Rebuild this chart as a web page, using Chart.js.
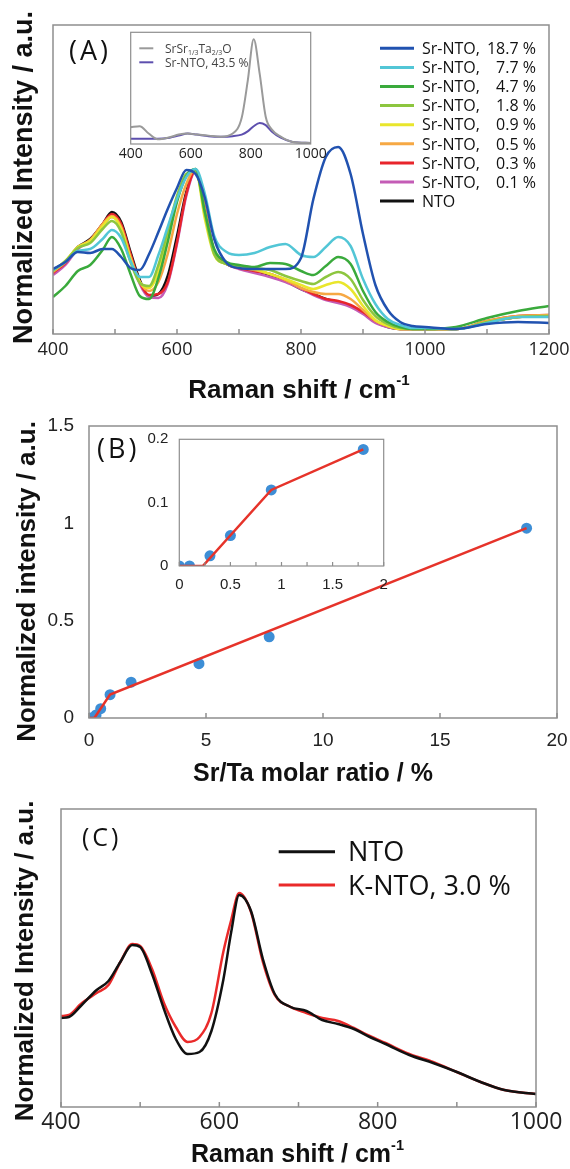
<!DOCTYPE html>
<html lang="en">
<head>
<meta charset="utf-8">
<title>Raman spectra of Sr- and K-doped NTO</title>
<script src="https://cdn.jsdelivr.net/npm/chart.js@4.4.1/dist/chart.umd.min.js"></script>
<style>
  body { margin: 0; background: #fff; }
  #figure { position: relative; width: 570px; height: 1169px; background: #fff; overflow: hidden; }
  #figure canvas { position: absolute; }
</style>
</head>
<body>
<div id="figure">
  <canvas id="spectraChart" width="570" height="400" style="left:0;top:0"></canvas>
  <canvas id="spectraInset" width="220" height="140" style="left:110px;top:30px"></canvas>
  <canvas id="ratioChart" width="570" height="390" style="left:0;top:400px"></canvas>
  <canvas id="ratioInset" width="262" height="170" style="left:130px;top:430px"></canvas>
  <canvas id="potassiumChart" width="570" height="379" style="left:0;top:790px"></canvas>
</div>
<script>
// (A) Raman spectra, Sr-NTO series (normalized intensity, a.u.)
const ramanShift = [400, 420, 440, 460, 480, 495, 510, 525, 540, 555, 570, 585, 600, 615, 630, 645, 660, 680, 700, 725,
  750, 775, 800, 820, 840, 860, 880, 900, 920, 940, 960, 980, 1000, 1050, 1100, 1150, 1200];
const sr187 = [0.65, 0.72, 0.82, 0.81, 0.85, 0.85, 0.77, 0.66, 0.64, 0.80, 1.02, 1.25, 1.46, 1.64, 1.60, 1.36, 0.95, 0.71, 0.66, 0.65,
  0.65, 0.65, 0.76, 1.35, 1.77, 1.87, 1.60, 1.00, 0.49, 0.24, 0.12, 0.08, 0.07, 0.05, 0.10, 0.12, 0.11];
const sr77 = [0.64, 0.72, 0.83, 0.85, 0.95, 1.04, 0.96, 0.73, 0.57, 0.57, 0.79, 1.07, 1.35, 1.57, 1.65, 1.40, 0.98, 0.82, 0.79, 0.81,
  0.87, 0.90, 0.79, 0.77, 0.87, 0.97, 0.88, 0.55, 0.30, 0.15, 0.09, 0.06, 0.06, 0.05, 0.11, 0.17, 0.17];
const sr47 = [0.37, 0.48, 0.63, 0.69, 0.84, 0.97, 0.85, 0.60, 0.38, 0.35, 0.56, 0.92, 1.32, 1.58, 1.65, 1.22, 0.85, 0.72, 0.69, 0.67,
  0.71, 0.70, 0.63, 0.59, 0.68, 0.77, 0.70, 0.43, 0.22, 0.12, 0.07, 0.05, 0.05, 0.07, 0.16, 0.23, 0.28];
const sr18 = [0.63, 0.73, 0.86, 0.91, 1.05, 1.13, 1.02, 0.72, 0.51, 0.48, 0.69, 1.03, 1.38, 1.60, 1.63, 1.20, 0.80, 0.70, 0.68, 0.66,
  0.64, 0.58, 0.53, 0.50, 0.57, 0.62, 0.55, 0.34, 0.18, 0.10, 0.06, 0.05, 0.05, 0.05, 0.12, 0.17, 0.18];
const sr09 = [0.63, 0.73, 0.87, 0.93, 1.08, 1.17, 1.05, 0.75, 0.52, 0.46, 0.62, 0.98, 1.34, 1.58, 1.63, 1.15, 0.79, 0.70, 0.67, 0.65,
  0.60, 0.55, 0.49, 0.45, 0.49, 0.52, 0.45, 0.28, 0.14, 0.08, 0.05, 0.05, 0.05, 0.05, 0.12, 0.17, 0.18];
const sr05 = [0.62, 0.72, 0.87, 0.94, 1.10, 1.18, 1.07, 0.77, 0.52, 0.43, 0.52, 0.80, 1.20, 1.50, 1.65, 1.25, 0.82, 0.70, 0.67, 0.64,
  0.60, 0.54, 0.46, 0.42, 0.40, 0.40, 0.35, 0.24, 0.13, 0.08, 0.05, 0.05, 0.05, 0.05, 0.13, 0.18, 0.19];
const sr03 = [0.61, 0.71, 0.86, 0.94, 1.10, 1.20, 1.10, 0.80, 0.52, 0.39, 0.40, 0.52, 0.92, 1.40, 1.64, 1.25, 0.82, 0.70, 0.66, 0.63,
  0.60, 0.54, 0.46, 0.40, 0.35, 0.33, 0.29, 0.22, 0.13, 0.08, 0.05, 0.05, 0.05, 0.05, 0.13, 0.18, 0.19];
const sr01 = [0.59, 0.69, 0.85, 0.93, 1.08, 1.17, 1.08, 0.78, 0.50, 0.37, 0.36, 0.50, 0.90, 1.38, 1.63, 1.26, 0.83, 0.70, 0.65, 0.61,
  0.57, 0.52, 0.45, 0.39, 0.34, 0.31, 0.27, 0.20, 0.11, 0.07, 0.05, 0.05, 0.05, 0.05, 0.12, 0.17, 0.18];
const nto = [0.64, 0.72, 0.87, 0.95, 1.10, 1.22, 1.12, 0.82, 0.54, 0.38, 0.40, 0.58, 0.98, 1.42, 1.64, 1.22, 0.82, 0.70, 0.66, 0.63,
  0.59, 0.53, 0.45, 0.40, 0.35, 0.32, 0.28, 0.21, 0.12, 0.07, 0.05, 0.05, 0.05, 0.05, 0.12, 0.17, 0.18];
const spectraLabels = ["Sr-NTO, 18.7 %", "Sr-NTO, 7.7 %", "Sr-NTO, 4.7 %", "Sr-NTO, 1.8 %", "Sr-NTO, 0.9 %",
  "Sr-NTO, 0.5 %", "Sr-NTO, 0.3 %", "Sr-NTO, 0.1 %", "NTO"];

// (A) inset: reference tantalate vs. heavily doped sample
const insetShift = [400, 430, 460, 490, 530, 560, 590, 620, 660, 700, 740, 770, 790, 810, 830, 850, 870, 900, 940, 1000];
const srTantalate = [0.16, 0.17, 0.10, 0.045, 0.065, 0.09, 0.10, 0.09, 0.08, 0.07, 0.10, 0.25, 0.60, 1.00, 0.67, 0.26, 0.14, 0.07, 0.02, 0.01];
const sr435 = [0.05, 0.05, 0.05, 0.05, 0.06, 0.08, 0.10, 0.09, 0.075, 0.07, 0.075, 0.09, 0.12, 0.17, 0.20, 0.18, 0.12, 0.06, 0.02, 0.01];

// (B) 860 cm-1 band intensity vs. Sr/Ta molar ratio
const srTaRatio = [0, 0.1, 0.3, 0.5, 0.9, 1.8, 4.7, 7.7, 18.7];
const bandIntensity = [0, 0, 0.016, 0.048, 0.12, 0.184, 0.279, 0.417, 0.975];
const fitRatio = [0, 0.23, 0.9, 18.7];
const fitIntensity = [0, 0, 0.12, 0.975];
const insetFitRatio = [0, 0.23, 0.9, 1.8];
const insetFitIntensity = [0, 0, 0.12, 0.184];

// (C) K-doped NTO
const kShift = [400, 410, 425, 445, 460, 475, 490, 500, 515, 530, 545, 560, 575, 590, 605, 615, 625, 640, 655, 670,
  690, 710, 730, 750, 770, 790, 810, 840, 870, 900, 930, 960, 1000];
const ntoK = [0.89, 0.90, 1.01, 1.17, 1.26, 1.45, 1.62, 1.60, 1.33, 0.98, 0.68, 0.53, 0.55, 0.76, 1.27, 1.75, 2.12, 1.96, 1.48, 1.13,
  1.00, 0.96, 0.87, 0.83, 0.78, 0.70, 0.63, 0.52, 0.44, 0.35, 0.25, 0.17, 0.13];
const kNto30 = [0.91, 0.92, 1.03, 1.14, 1.22, 1.45, 1.63, 1.61, 1.38, 1.04, 0.80, 0.65, 0.70, 0.94, 1.55, 1.87, 2.14, 1.95, 1.45, 1.12,
  1.00, 0.94, 0.89, 0.86, 0.79, 0.71, 0.64, 0.53, 0.45, 0.35, 0.25, 0.17, 0.13];

const FONT_BOLD = "'Liberation Sans', Arial, sans-serif";
const FONT_TEXT = "'Open Sans', 'Noto Sans', sans-serif";
const FONT_PLAIN = "'Liberation Sans', Arial, sans-serif";
const FRAME = "#8e8e8e";

function toPoints(xs, ys) {
  return xs.map((x, i) => ({ x, y: ys[i] }));
}

// text with optional sub/superscript pieces
function drawParts(ctx, x, y, parts, style) {
  const size = style.size;
  const fontFor = (p) => {
    const s = p.sup || p.sub ? size * 0.58 : size;
    return `${style.weight || "normal"} ${s}px ${style.family || FONT_TEXT}`;
  };
  ctx.save();
  ctx.letterSpacing = style.spacing ? `${style.spacing}px` : "0px";
  let width = 0;
  parts.forEach((p) => {
    ctx.font = fontFor(p);
    width += ctx.measureText(p.t).width;
  });
  ctx.translate(x, y);
  if (style.rotate) ctx.rotate(style.rotate);
  let cx = style.align === "center" ? -width / 2 : style.align === "right" ? -width : 0;
  ctx.fillStyle = style.color || "#111";
  ctx.textAlign = "left";
  ctx.textBaseline = "alphabetic";
  parts.forEach((p) => {
    ctx.font = fontFor(p);
    const dy = p.sup ? -size * 0.5 : p.sub ? size * 0.22 : 0;
    ctx.fillText(p.t, cx, dy);
    cx += ctx.measureText(p.t).width;
  });
  ctx.restore();
}

function anchor(a, ax, dx, ay, dy) {
  const x = ax === "left" ? a.left : ax === "right" ? a.right : (a.left + a.right) / 2;
  const y = ay === "top" ? a.top : ay === "bottom" ? a.bottom : (a.top + a.bottom) / 2;
  return [x + dx, y + dy];
}

// box around the plot area plus inward ticks on the x axis
function framePlugin(width, tickLength) {
  return {
    id: "frame",
    afterDatasetsDraw(chart) {
      const { ctx, chartArea: a, scales } = chart;
      ctx.save();
      ctx.strokeStyle = FRAME;
      ctx.lineWidth = width;
      if (tickLength) {
        ctx.beginPath();
        scales.x.ticks.forEach((t) => {
          const x = scales.x.getPixelForValue(t.value);
          ctx.moveTo(x, a.bottom);
          ctx.lineTo(x, a.bottom - tickLength);
        });
        ctx.stroke();
      }
      ctx.strokeRect(a.left, a.top, a.width, a.height);
      ctx.restore();
    },
  };
}

function notesPlugin(items) {
  return {
    id: "notes",
    afterDraw(chart) {
      items.forEach((item) => {
        const [x, y] = anchor(chart.chartArea, ...item.at);
        drawParts(chart.ctx, x, y, item.parts, item);
      });
    },
  };
}

function legendPlugin(cfg) {
  return {
    id: "boxLegend",
    afterDraw(chart) {
      const { ctx, chartArea: a } = chart;
      chart.data.datasets.forEach((ds, i) => {
        const x0 = a.left + cfg.left;
        const y = a.top + cfg.top + i * cfg.rowGap;
        ctx.save();
        ctx.strokeStyle = ds.borderColor;
        ctx.lineWidth = cfg.lineWidth;
        ctx.beginPath();
        ctx.moveTo(x0, y);
        ctx.lineTo(x0 + cfg.lineLength, y);
        ctx.stroke();
        ctx.restore();
        const style = { size: cfg.size, family: FONT_TEXT, color: cfg.color };
        const tx = x0 + cfg.lineLength + cfg.gap;
        const ty = y + cfg.size * 0.36;
        const split = ds.label.indexOf(", ");
        if (cfg.valueRight !== undefined && split > 0) {
          drawParts(ctx, tx, ty, [{ t: ds.label.slice(0, split + 1) }], style);
          drawParts(ctx, a.right + cfg.valueRight, ty, [{ t: ds.label.slice(split + 2) }], { ...style, align: "right" });
        } else {
          drawParts(ctx, tx, ty, ds.labelParts || [{ t: ds.label }], style);
        }
      });
    },
  };
}

function baseOptions(padding) {
  return {
    responsive: false,
    animation: false,
    events: [],
    layout: { padding },
    plugins: { legend: { display: false }, tooltip: { enabled: false } },
  };
}

function xAxis(min, max, step, t) {
  return {
    type: "linear",
    min,
    max,
    grid: { display: false, drawTicks: false },
    border: { display: false },
    ticks: {
      stepSize: step,
      autoSkip: false,
      maxRotation: 0,
      padding: t.padding,
      color: "#222",
      font: { family: t.family, size: t.size },
      callback: t.callback,
    },
    afterFit(scale) {
      scale.height = t.height;
      scale.paddingLeft = 0;
      scale.paddingRight = 0;
    },
  };
}

function yAxis(min, max, step, t) {
  if (!t) return { type: "linear", min, max, display: false };
  return {
    type: "linear",
    min,
    max,
    grid: { display: false, drawTicks: false },
    border: { display: false },
    ticks: {
      stepSize: step,
      padding: t.padding,
      color: "#222",
      font: { family: t.family, size: t.size },
      callback: t.callback,
    },
    afterFit(scale) {
      scale.width = t.width;
      scale.paddingTop = 0;
      scale.paddingBottom = 0;
    },
  };
}

function spectrum(xs, ys, label, color, width) {
  return {
    label,
    data: toPoints(xs, ys),
    borderColor: color,
    borderWidth: width,
    pointRadius: 0,
    fill: false,
    cubicInterpolationMode: "monotone",
  };
}

const evenHundreds = (v) => (v % 200 === 0 ? String(v) : "");
const halfSteps = (v) => (Math.abs(v * 2 - Math.round(v * 2)) < 1e-6 ? String(v) : "");

// ---- (A) main spectra ----
const spectraSeries = [sr187, sr77, sr47, sr18, sr09, sr05, sr03, sr01, nto];
const spectraColors = ["#2152b0", "#52c6d6", "#3aaa3c", "#8dc63f", "#e9e62c", "#f6a844", "#e8252b", "#c45cb6", "#111111"];

new Chart(document.getElementById("spectraChart"), {
  type: "line",
  data: {
    datasets: spectraSeries.map((ys, i) => spectrum(ramanShift, ys, spectraLabels[i], spectraColors[i], 2.5)),
  },
  options: {
    ...baseOptions({ left: 53, top: 25, right: 21, bottom: 0 }),
    scales: {
      x: xAxis(400, 1200, 100, { family: FONT_TEXT, size: 18, padding: 5, height: 66, callback: evenHundreds }),
      y: yAxis(0, 3.09, 1),
    },
  },
  plugins: [
    framePlugin(1.5, 5),
    legendPlugin({ left: 327, top: 23.3, rowGap: 19.1, lineLength: 34, lineWidth: 3, gap: 8, size: 16, color: "#111", valueRight: -13 }),
    notesPlugin([
      { parts: [{ t: "(A)" }], at: ["left", 16, "top", 35], size: 27, family: FONT_TEXT, spacing: 3 },
      { parts: [{ t: "Normalized Intensity / a.u." }], at: ["left", -21, "middle", -2], size: 27, weight: "bold",
        family: FONT_BOLD, rotate: -Math.PI / 2, align: "center" },
      { parts: [{ t: "Raman shift / cm" }, { t: "-1", sup: true }], at: ["center", -2, "bottom", 64], size: 26,
        weight: "bold", family: FONT_BOLD, align: "center" },
    ]),
  ],
});

// ---- (A) inset ----
new Chart(document.getElementById("spectraInset"), {
  type: "line",
  data: {
    datasets: [
      { ...spectrum(insetShift, srTantalate, "SrSr1/3Ta2/3O", "#9a9a9a", 2),
        labelParts: [{ t: "SrSr" }, { t: "1/3", sub: true }, { t: "Ta" }, { t: "2/3", sub: true }, { t: "O" }] },
      spectrum(insetShift, sr435, "Sr-NTO, 43.5 %", "#5d4fae", 2),
    ],
  },
  options: {
    ...baseOptions({ left: 20.7, top: 2.3, right: 19.3, bottom: 0 }),
    scales: {
      x: xAxis(400, 1000, 200, { family: FONT_TEXT, size: 14, padding: 2, height: 26, callback: (v) => String(v) }),
      y: yAxis(0, 1.067, 1),
    },
  },
  plugins: [
    framePlugin(1.2, 0),
    legendPlugin({ left: 8.6, top: 16, rowGap: 14, lineLength: 14, lineWidth: 2, gap: 11.7, size: 12, color: "#444" }),
  ],
});

// ---- (B) band intensity vs. Sr/Ta ratio ----
function ratioDatasets(fitX, fitY) {
  return [
    { label: "fit", data: toPoints(fitX, fitY), borderColor: "#e6332a", borderWidth: 2.5, pointRadius: 0, tension: 0 },
    { label: "measured", data: toPoints(srTaRatio, bandIntensity), showLine: false, pointRadius: 5.5,
      pointBackgroundColor: "#3d8ed6", pointBorderWidth: 0 },
  ];
}

new Chart(document.getElementById("ratioChart"), {
  type: "line",
  data: { datasets: ratioDatasets(fitRatio, fitIntensity) },
  options: {
    ...baseOptions({ left: 0, top: 26, right: 13, bottom: 0 }),
    scales: {
      x: xAxis(0, 20, 5, { family: FONT_PLAIN, size: 19, padding: 11, height: 72, callback: (v) => String(v) }),
      y: yAxis(0, 1.5, 0.5, { family: FONT_PLAIN, size: 19, padding: 15, width: 89, callback: (v) => String(v) }),
    },
  },
  plugins: [
    framePlugin(1.5, 5),
    notesPlugin([
      { parts: [{ t: "(B)" }], at: ["left", 8, "top", 32], size: 27, family: FONT_TEXT, spacing: 3 },
      { parts: [{ t: "Normalized intensity / a.u." }], at: ["left", -54.5, "middle", 9.5], size: 26, weight: "bold",
        family: FONT_BOLD, rotate: -Math.PI / 2, align: "center" },
      { parts: [{ t: "Sr/Ta molar ratio / %" }], at: ["center", -10, "bottom", 63], size: 25, weight: "bold",
        family: FONT_BOLD, align: "center" },
    ]),
  ],
});

// ---- (B) inset, low-doping range ----
new Chart(document.getElementById("ratioInset"), {
  type: "line",
  data: { datasets: ratioDatasets(insetFitRatio, insetFitIntensity) },
  options: {
    ...baseOptions({ left: 0, top: 9.3, right: 8.3, bottom: 0 }),
    scales: {
      x: xAxis(0, 2, 0.25, { family: FONT_PLAIN, size: 15, padding: 10, height: 34, callback: halfSteps }),
      y: yAxis(0, 0.2, 0.1, { family: FONT_PLAIN, size: 15, padding: 11, width: 49.3,
        callback: (v) => String(Math.round(v * 10) / 10) }),
    },
  },
  plugins: [framePlugin(1.2, 4)],
});

// ---- (C) K-doped NTO ----
new Chart(document.getElementById("potassiumChart"), {
  type: "line",
  data: {
    datasets: [
      spectrum(kShift, ntoK, "NTO", "#111111", 2.5),
      spectrum(kShift, kNto30, "K-NTO, 3.0 %", "#ea2a2a", 2.5),
    ],
  },
  options: {
    ...baseOptions({ left: 61, top: 19, right: 34, bottom: 0 }),
    scales: {
      x: xAxis(400, 1000, 100, { family: FONT_TEXT, size: 23, padding: 2, height: 62, callback: evenHundreds }),
      y: yAxis(0, 2.98, 1),
    },
  },
  plugins: [
    framePlugin(1.5, 5),
    legendPlugin({ left: 217.7, top: 42.7, rowGap: 33.3, lineLength: 56.3, lineWidth: 3, gap: 13, size: 27, color: "#111" }),
    notesPlugin([
      { parts: [{ t: "(C)" }], at: ["left", 21, "top", 37], size: 25, family: FONT_TEXT, spacing: 3 },
      { parts: [{ t: "Normalized Intensity / a.u." }], at: ["left", -28, "middle", 3], size: 26, weight: "bold",
        family: FONT_BOLD, rotate: -Math.PI / 2, align: "center" },
      { parts: [{ t: "Raman shift / cm" }, { t: "-1", sup: true }], at: ["center", -1, "bottom", 55], size: 25,
        weight: "bold", family: FONT_BOLD, align: "center" },
    ]),
  ],
});
</script>
</body>
</html>
